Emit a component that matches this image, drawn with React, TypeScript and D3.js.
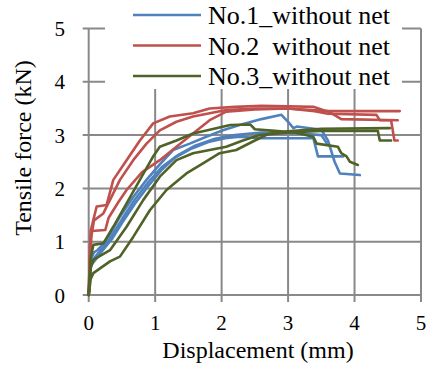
import React from 'react';
import * as d3 from 'd3';

// tick values
const xTicks = [0, 1, 2, 3, 4, 5];
const yTicks = [0, 1, 2, 3, 4, 5];

const seriesNames = ['No.1_without net', 'No.2\u00a0\u00a0without net', 'No.3_without net'];
const seriesColors = ['#4f81bd', '#c0504d', '#4f6228'];

// No.1 (blue) specimens: [displacement mm, force kN]
const blue1 = [[0,0],[0.03,0.65],[0.08,0.8],[0.13,0.84],[0.23,0.97],[0.33,1.16],[0.47,1.47],[0.67,1.84],[0.87,2.16],[1.07,2.45],[1.27,2.72],[1.52,2.84],[1.77,2.97],[2.02,3.09],[2.27,3.19],[2.6,3.3],[2.9,3.38],[3.0,3.25],[3.08,3.13],[3.13,3.16],[3.5,3.1],[3.6,2.9],[3.7,2.5],[3.78,2.28],[4.08,2.25]];
const blue2 = [[0,0],[0.03,0.55],[0.1,0.66],[0.2,0.82],[0.35,1.05],[0.5,1.35],[0.7,1.72],[0.9,2.05],[1.1,2.35],[1.3,2.58],[1.55,2.75],[1.8,2.87],[2.05,2.94],[2.27,2.97],[2.6,2.94],[3.0,2.94],[3.38,2.94],[3.45,2.6],[3.83,2.6]];
const blue3 = [[0,0],[0.03,0.6],[0.12,0.75],[0.3,1.02],[0.5,1.42],[0.7,1.8],[0.9,2.12],[1.1,2.4],[1.35,2.63],[1.6,2.8],[1.9,2.93],[2.2,3.0],[2.6,3.05],[3.0,3.04],[3.3,3.02],[3.5,3.0],[3.58,2.85]];

// No.2 (red)
const red1 = [[0,0],[0.03,1.2],[0.07,1.41],[0.12,1.66],[0.27,1.69],[0.37,2.16],[0.57,2.53],[0.77,2.9],[0.97,3.22],[1.22,3.35],[1.57,3.41],[1.82,3.5],[2.2,3.53],[2.6,3.55],[3.0,3.54],[3.38,3.53],[3.58,3.45],[4.68,3.45]];
const red2 = [[0,0],[0.04,1.1],[0.08,1.4],[0.22,1.53],[0.47,2.16],[0.67,2.53],[0.87,2.84],[1.07,3.09],[1.32,3.25],[1.57,3.35],[1.82,3.41],[2.07,3.47],[2.5,3.5],[3.0,3.5],[3.4,3.45],[3.6,3.4],[4.33,3.38],[4.38,3.28],[4.55,3.28],[4.6,2.9],[4.65,2.9]];
const red3 = [[0,0],[0.02,0.9],[0.04,1.2],[0.25,1.22],[0.3,1.45],[0.45,1.75],[0.57,1.97],[0.8,2.3],[1.07,2.53],[1.32,2.78],[1.57,3.03],[1.82,3.28],[2.07,3.44],[2.5,3.48],[3.0,3.5],[3.6,3.45],[3.8,3.3],[4.65,3.28]];

// No.3 (green)
const green1 = [[0,0],[0.03,0.7],[0.07,0.94],[0.22,0.97],[0.37,1.28],[0.57,1.72],[0.77,2.16],[0.97,2.6],[1.07,2.78],[1.32,2.9],[1.57,3.03],[1.82,3.1],[2.13,3.19],[2.43,3.2],[2.5,3.11],[2.8,3.08],[3.1,3.05],[3.38,2.97],[3.43,2.84],[3.75,2.78],[3.8,2.66],[3.88,2.6],[3.93,2.5],[4.05,2.44]];
const green2 = [[0,0],[0.03,0.5],[0.07,0.66],[0.32,0.84],[0.57,1.28],[0.82,1.78],[1.07,2.22],[1.32,2.53],[1.57,2.66],[1.82,2.72],[2.07,2.78],[2.32,2.9],[2.57,3.0],[3.0,3.05],[3.5,3.08],[4.35,3.08],[4.38,2.9],[4.55,2.9]];
const green3 = [[0,0],[0.03,0.3],[0.07,0.41],[0.32,0.63],[0.47,0.72],[0.67,1.09],[0.92,1.59],[1.17,1.97],[1.47,2.28],[1.72,2.47],[1.97,2.66],[2.22,2.72],[2.47,2.88],[2.7,3.02],[3.0,3.07],[3.5,3.12],[4.53,3.13]];

const seriesCurves = [[blue1, blue2, blue3], [red1, red2, red3], [green1, green2, green3]];

const W = 427;
const H = 368;
const gridColor = '#898989';
const serif = { fontFamily: "'Liberation Serif', 'Times New Roman', Tinos, 'DejaVu Serif'" };

export default function App() {
  const x = d3.scaleLinear().domain([0, 5]).range([88.7, 421]);
  const y = d3.scaleLinear().domain([0, 5]).range([295, 28.5]);
  const line = d3.line<number[]>().x(d => x(d[0])).y(d => y(d[1]));

  return (
    <svg width={W} height={H} style={{ position: 'absolute', left: 0, top: 0, background: '#fff' }}>
      {/* grid */}
      {yTicks.map(t => (
        <line key={'gy' + t} x1={x(0) - 6} x2={x(5)} y1={y(t)} y2={y(t)} stroke={gridColor} strokeWidth={2} />
      ))}
      {xTicks.map(t => (
        <line key={'gx' + t} x1={x(t)} x2={x(t)} y1={y(5)} y2={y(0) + 7} stroke={gridColor} strokeWidth={2} />
      ))}
      {/* curves */}
      {seriesCurves.map((curves, i) =>
        curves.map((c, j) => (
          <path key={i + '-' + j} d={line(c) || ''} fill="none" stroke={seriesColors[i]}
            strokeWidth={2.6} strokeLinejoin="round" strokeLinecap="round" />
        ))
      )}
      {/* legend */}
      <rect x={105} y={0} width={297} height={89} fill="#fff" />
      {seriesNames.map((n, i) => (
        <line key={'ll' + i} x1={133} x2={201} y1={15 + i * 30.5} y2={15 + i * 30.5} stroke={seriesColors[i]} strokeWidth={2.6} />
      ))}
      {seriesNames.map((n, i) => (
        <text key={n} x={208} y={24 + i * 30.5} style={{ ...serif, fontSize: 26 }}>{n}</text>
      ))}
      {/* tick labels */}
      {yTicks.map(t => (
        <text key={'ly' + t} x={65} y={y(t) + 7.5} textAnchor="end" style={{ ...serif, fontSize: 21 }}>{t}</text>
      ))}
      {xTicks.map(t => (
        <text key={'lx' + t} x={x(t)} y={330} textAnchor="middle" style={{ ...serif, fontSize: 21 }}>{t}</text>
      ))}
      <text x={258} y={358} textAnchor="middle" style={{ ...serif, fontSize: 24 }}>Displacement (mm)</text>
      <text transform="translate(31,148) rotate(-90)" textAnchor="middle" style={{ ...serif, fontSize: 24 }}>Tensile force (kN)</text>
    </svg>
  );
}
